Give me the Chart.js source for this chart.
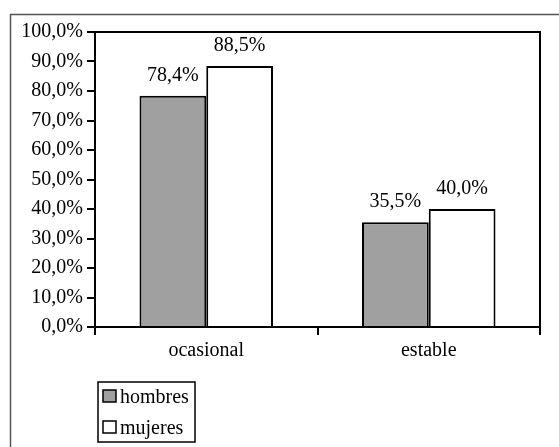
<!DOCTYPE html>
<html>
<head>
<meta charset="utf-8">
<script src="https://cdn.jsdelivr.net/npm/chart.js"></script>
<style>
  html, body { margin: 0; padding: 0; background: #fff; }
  #wrap { width: 559px; height: 447px; }
</style>
</head>
<body>
<div id="wrap"><canvas id="grafico" width="559" height="447"></canvas></div>
<script>
// datos del grafico
var categorias = ["ocasional", "estable"];
var hombres = [78.4, 35.5];
var mujeres = [88.5, 40.0];
var nombresSeries = ["hombres", "mujeres"];
var marcasY = [0, 10, 20, 30, 40, 50, 60, 70, 80, 90, 100];

var fuente = { family: "'Liberation Serif', 'Times New Roman', serif", size: 20 };

function formatoPorc(v, dec) {
    return v.toFixed(dec).replace(".", ",") + "%";
}

// marco exterior, borde del area de trazado, etiquetas y leyenda
var extras = {
    id: "extras",
    beforeDraw: function (chart) {
        var ctx = chart.ctx;
        ctx.save();
        ctx.fillStyle = "#fff";
        ctx.fillRect(0, 0, chart.width, chart.height);
        ctx.strokeStyle = "#555";
        ctx.lineWidth = 1.5;
        ctx.strokeRect(10.5, 14.5, chart.width + 20, chart.height + 20);
        ctx.restore();
    },
    afterDraw: function (chart) {
        var ctx = chart.ctx;
        var a = chart.chartArea;
        ctx.save();
        ctx.strokeStyle = "#000";
        ctx.lineWidth = 2;
        ctx.strokeRect(a.left, a.top, a.right - a.left, a.bottom - a.top);

        // valores sobre las barras
        ctx.fillStyle = "#000";
        ctx.font = fuente.size + "px " + fuente.family;
        ctx.textAlign = "center";
        ctx.textBaseline = "alphabetic";
        chart.data.datasets.forEach(function (ds, i) {
            chart.getDatasetMeta(i).data.forEach(function (bar, j) {
                ctx.fillText(formatoPorc(ds.data[j], 1), bar.x, bar.y - 15);
            });
        });

        // leyenda
        var lx = 98, ly = 382;
        ctx.lineWidth = 1.5;
        ctx.strokeRect(lx, ly, 97, 60);
        ctx.textAlign = "left";
        chart.data.datasets.forEach(function (ds, i) {
            var y = ly + 8 + i * 31;
            ctx.fillStyle = ds.backgroundColor;
            ctx.fillRect(lx + 5, y, 13, 12);
            ctx.strokeStyle = "#000";
            ctx.lineWidth = 1.5;
            ctx.strokeRect(lx + 5, y, 13, 12);
            ctx.fillStyle = "#000";
            ctx.fillText(ds.label, lx + 22, y + 13);
        });
        ctx.restore();
    }
};

new Chart(document.getElementById("grafico"), {
    type: "bar",
    data: {
        labels: categorias,
        datasets: [{
            label: nombresSeries[0],
            data: hombres,
            backgroundColor: "#a0a0a0",
            borderColor: "#000",
            borderWidth: 2,
            categoryPercentage: 0.6,
            barPercentage: 1.0
        }, {
            label: nombresSeries[1],
            data: mujeres,
            backgroundColor: "#ffffff",
            borderColor: "#000",
            borderWidth: 2,
            categoryPercentage: 0.6,
            barPercentage: 1.0
        }]
    },
    options: {
        responsive: false,
        animation: false,
        events: [],
        layout: { padding: { left: 10, top: 32, right: 19, bottom: 0 } },
        plugins: {
            legend: { display: false },
            tooltip: { enabled: false }
        },
        scales: {
            x: {
                grid: { offset: true, drawOnChartArea: false, color: "#000", lineWidth: 2, tickLength: 8 },
                border: { color: "#000", width: 2 },
                ticks: { color: "#000", font: fuente, padding: 4, maxRotation: 0 },
                afterFit: function (s) { s.height = 120; }
            },
            y: {
                min: 0,
                max: 100,
                afterBuildTicks: function (s) {
                    s.ticks = marcasY.map(function (v) { return { value: v }; });
                },
                grid: { drawOnChartArea: false, color: "#000", lineWidth: 2, tickLength: 8 },
                border: { color: "#000", width: 2 },
                ticks: {
                    color: "#000",
                    font: fuente,
                    padding: 4,
                    callback: function (v) { return formatoPorc(v, 1); }
                },
                afterFit: function (s) { s.width = 85; }
            }
        }
    },
    plugins: [extras]
});
</script>
</body>
</html>
